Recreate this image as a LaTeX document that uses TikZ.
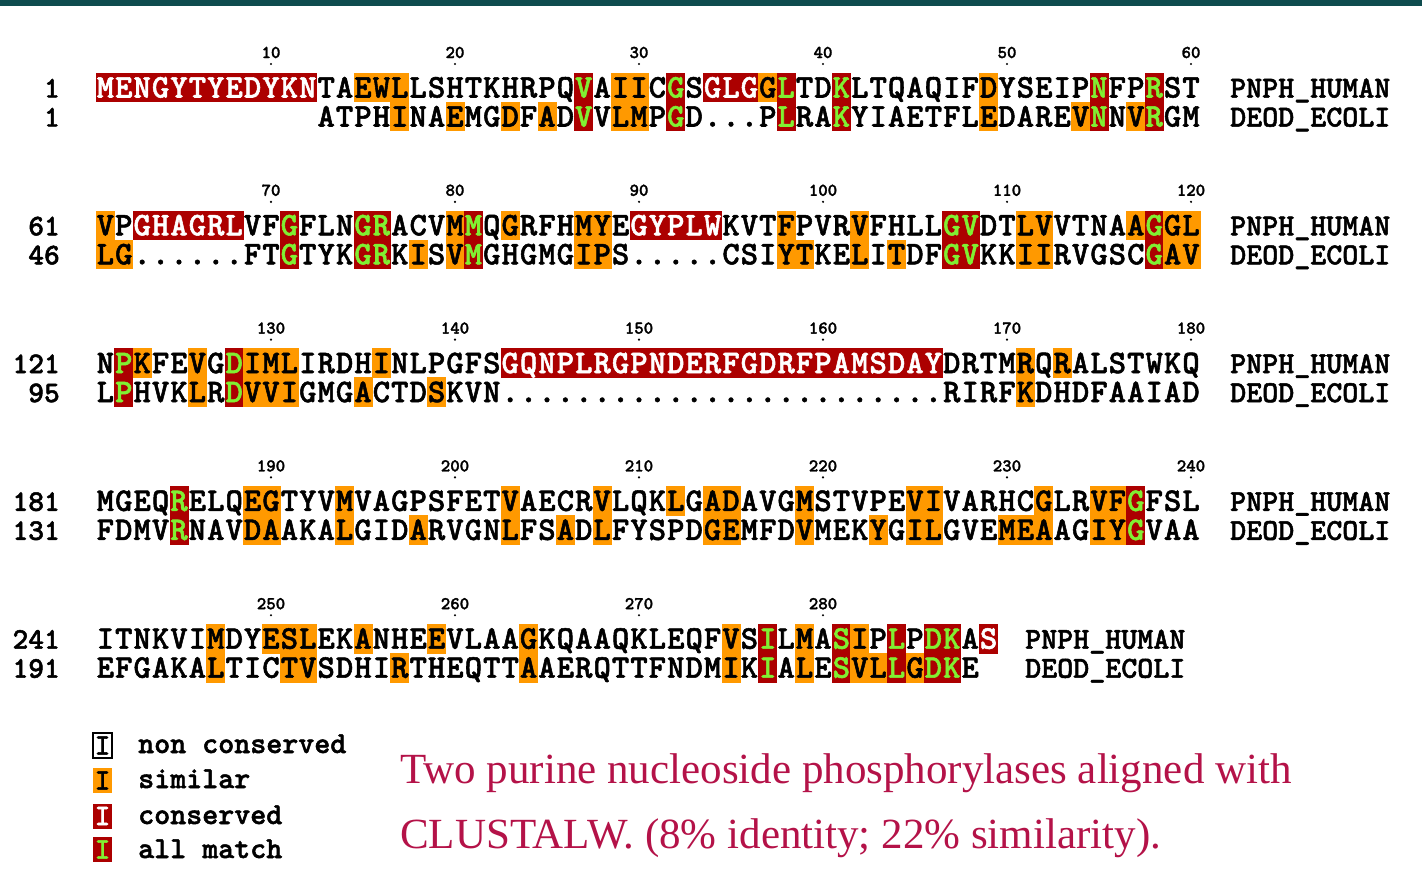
\documentclass[tikz,border=0pt]{standalone}
\usepackage{fontspec}
\usepackage{graphicx}
\setmainfont{Liberation Serif}
\newfontfamily\seqfont{lmmonolt10-bold.otf}[FakeBold=1.6]
\definecolor{ared}{RGB}{172,0,0}
\definecolor{aorange}{RGB}{255,153,0}
\definecolor{agreen}{RGB}{128,240,50}
\definecolor{capred}{RGB}{180,18,72}
\definecolor{topbar}{RGB}{14,76,78}
\tikzset{
 seqch/.style={inner sep=0pt, anchor=base, font=\seqfont\fontsize{33}{33}\selectfont},
 ticklab/.style={inner sep=0pt, anchor=base, font=\seqfont\fontsize{18}{18}\selectfont},
 rownum/.style={inner sep=0pt, anchor=base east, font=\seqfont\fontsize{30}{30}\selectfont},
 seqname/.style={inner sep=0pt, anchor=base west, font=\seqfont\fontsize{30.5}{30.5}\selectfont},
 legtext/.style={inner sep=0pt, anchor=base west, font=\seqfont\fontsize{30.5}{30.5}\selectfont},
 legbox/.style={minimum width=19pt, minimum height=25pt, inner sep=0pt, font=\seqfont\fontsize{30}{30}\selectfont},
 captext/.style={inner sep=0pt, anchor=base west, text=capred, font=\fontsize{43}{43}\selectfont},
}
\ExplSyntaxOn
\int_new:N \l__aln_k_int
\tl_new:N \l__aln_code_tl
\tl_new:N \l__aln_col_tl
\tl_new:N \l__aln_x_tl
\NewDocumentCommand \AlnBg { m m }
 {
  \int_zero:N \l__aln_k_int
  \tl_map_inline:nn {#2}
   {
    \int_incr:N \l__aln_k_int
    \tl_set:Nx \l__aln_x_tl { \fp_eval:n {96.2+(\l__aln_k_int-1)*18.4-0.3} }
    \str_case:nn {##1}
     {
      {o} { \fill[aorange] (\l__aln_x_tl, #1-14.8) rectangle ++(19, 29.6); }
      {r} { \fill[ared] (\l__aln_x_tl, #1-14.8) rectangle ++(19, 29.6); }
      {g} { \fill[ared] (\l__aln_x_tl, #1-14.8) rectangle ++(19, 29.6); }
     }
   }
 }
\NewDocumentCommand \AlnFg { m m m m }
 {
  \int_zero:N \l__aln_k_int
  \tl_map_inline:nn {#3}
   {
    \int_incr:N \l__aln_k_int
    \str_if_eq:nnF {##1} {-}
     {
      \tl_set:Nx \l__aln_code_tl { \tl_item:nn {#2} { \l__aln_k_int } }
      \tl_set:Nn \l__aln_col_tl {black}
      \str_if_eq:VnT \l__aln_code_tl {r} { \tl_set:Nn \l__aln_col_tl {white} }
      \str_if_eq:VnT \l__aln_code_tl {g} { \tl_set:Nn \l__aln_col_tl {agreen} }
      \tl_set:Nx \l__aln_x_tl { \fp_eval:n {105.4+(\l__aln_k_int-1)*18.4} }
      \node[seqch, text=\l__aln_col_tl, name=#4-\int_use:N \l__aln_k_int] at (\l__aln_x_tl, #1+10) {##1};
     }
   }
 }
\ExplSyntaxOff
\begin{document}
\begin{tikzpicture}[x=1pt,y=-1pt]
\useasboundingbox (0,0) rectangle (1422,887);
\fill[white] (0,0) rectangle (1422,887);
\fill[topbar] (0,0) rectangle (1422,6);

% backgrounds
\AlnBg{87.5}{rrrrrrrrrrrr--ooo---------g-oo-g-rrrog--g-------o-----g--g--}
\AlnBg{116.5}{----------------o--o--o-o-g-oo-g-----g--g-------o----og-og--}
\AlnBg{225.3}{o-rrrrrr--g---gg---og-o---oo-rrrrr---o---o----gg--oo----ogoo}
\AlnBg{254.3}{oo--------g---gg-o-og-----oo---------oo--o-o--gg--oo-----goo}
\AlnBg{363.1}{-go--o-gooo----o------rrrrrrrrrrrrrrrrrrrrrrrr----o-o-------}
\AlnBg{392.1}{-g---o-gooo---o---o-------------------------------o---------}
\AlnBg{500.9}{----g---oo---o--------o----o---o-oo---o-----oo-----o--oog---}
\AlnBg{529.9}{----g---oo---o---o----o--o-o-----oo---o---o-oo---ooo--oog---}
\AlnBg{638.7}{------o--ooo--o---o----o----------o-g-o-go-g-gg-r}
\AlnBg{667.7}{------o---oo----o------o----------o-g-o-googogg-}

% letters
\AlnFg{87.5}{rrrrrrrrrrrr--ooo---------g-oo-g-rrrog--g-------o-----g--g--}{MENGYTYEDYKNTAEWLLSHTKHRPQVAIICGSGLGGLTDKLTQAQIFDYSEIPNFPRST}{h1}
\AlnFg{116.5}{----------------o--o--o-o-g-oo-g-----g--g-------o----og-og--}{------------ATPHINAEMGDFADVVLMPGD...PLRAKYIAETFLEDAREVNNVRGM}{e1}
\AlnFg{225.3}{o-rrrrrr--g---gg---og-o---oo-rrrrr---o---o----gg--oo----ogoo}{VPGHAGRLVFGFLNGRACVMMQGRFHMYEGYPLWKVTFPVRVFHLLGVDTLVVTNAAGGL}{h2}
\AlnFg{254.3}{oo--------g---gg-o-og-----oo---------oo--o-o--gg--oo-----goo}{LG......FTGTYKGRKISVMGHGMGIPS.....CSIYTKELITDFGVKKIIRVGSCGAV}{e2}
\AlnFg{363.1}{-go--o-gooo----o------rrrrrrrrrrrrrrrrrrrrrrrr----o-o-------}{NPKFEVGDIMLIRDHINLPGFSGQNPLRGPNDERFGDRFPAMSDAYDRTMRQRALSTWKQ}{h3}
\AlnFg{392.1}{-g---o-gooo---o---o-------------------------------o---------}{LPHVKLRDVVIGMGACTDSKVN........................RIRFKDHDFAAIAD}{e3}
\AlnFg{500.9}{----g---oo---o--------o----o---o-oo---o-----oo-----o--oog---}{MGEQRELQEGTYVMVAGPSFETVAECRVLQKLGADAVGMSTVPEVIVARHCGLRVFGFSL}{h4}
\AlnFg{529.9}{----g---oo---o---o----o--o-o-----oo---o---o-oo---ooo--oog---}{FDMVRNAVDAAKALGIDARVGNLFSADLFYSPDGEMFDVMEKYGILGVEMEAAGIYGVAA}{e4}
\AlnFg{638.7}{------o--ooo--o---o----o----------o-g-o-go-g-gg-r}{ITNKVIMDYESLEKANHEEVLAAGKQAAQKLEQFVSILMASIPLPDKAS}{h5}
\AlnFg{667.7}{------o---oo----o------o----------o-g-o-googogg-}{EFGAKALTICTVSDHIRTHEQTTAAERQTTFNDMIKIALESVLLGDKE}{e5}

% tick labels
\foreach \n [count=\i] in {10,20,...,60}
 { \node[ticklab] (tk1-\i) at ({105.4+(10*\i-1)*18.4}, 58) {\n};
   \fill ({105.4+(10*\i-1)*18.4}, 64) circle[radius=1.2]; }
\foreach \n [count=\i] in {70,80,...,120}
 { \node[ticklab] (tk2-\i) at ({105.4+(10*\i-1)*18.4}, 195.8) {\n};
   \fill ({105.4+(10*\i-1)*18.4}, 201.8) circle[radius=1.2]; }
\foreach \n [count=\i] in {130,140,...,180}
 { \node[ticklab] (tk3-\i) at ({105.4+(10*\i-1)*18.4}, 333.6) {\n};
   \fill ({105.4+(10*\i-1)*18.4}, 339.6) circle[radius=1.2]; }
\foreach \n [count=\i] in {190,200,...,240}
 { \node[ticklab] (tk4-\i) at ({105.4+(10*\i-1)*18.4}, 471.4) {\n};
   \fill ({105.4+(10*\i-1)*18.4}, 477.4) circle[radius=1.2]; }
\foreach \n [count=\i] in {250,260,270,280}
 { \node[ticklab] (tk5-\i) at ({105.4+(10*\i-1)*18.4}, 609.2) {\n};
   \fill ({105.4+(10*\i-1)*18.4}, 615.2) circle[radius=1.2]; }

% row numbers
\node[rownum] (n1h) at (60,97.5) {1};
\node[rownum] (n1e) at (60,126.5) {1};
\node[rownum] (n2h) at (60,235.3) {61};
\node[rownum] (n2e) at (60,264.3) {46};
\node[rownum] (n3h) at (60,373.1) {121};
\node[rownum] (n3e) at (60,402.1) {95};
\node[rownum] (n4h) at (60,510.9) {181};
\node[rownum] (n4e) at (60,539.9) {131};
\node[rownum] (n5h) at (60,648.7) {241};
\node[rownum] (n5e) at (60,677.7) {191};

% names
\node[seqname] (nm1h) at (1230,97.5) {PNPH\_HUMAN};
\node[seqname] (nm1e) at (1230,126.5) {DEOD\_ECOLI};
\node[seqname] (nm2h) at (1230,235.3) {PNPH\_HUMAN};
\node[seqname] (nm2e) at (1230,264.3) {DEOD\_ECOLI};
\node[seqname] (nm3h) at (1230,373.1) {PNPH\_HUMAN};
\node[seqname] (nm3e) at (1230,402.1) {DEOD\_ECOLI};
\node[seqname] (nm4h) at (1230,510.9) {PNPH\_HUMAN};
\node[seqname] (nm4e) at (1230,539.9) {DEOD\_ECOLI};
\node[seqname] (nm5h) at (1025,648.7) {PNPH\_HUMAN};
\node[seqname] (nm5e) at (1025,677.7) {DEOD\_ECOLI};

% legend
\node[legbox, draw=black, line width=1.3pt, fill=white] (lb1) at (102.5,745.5) {I};
\node[legbox, fill=aorange] (lb2) at (102.5,780.5) {I};
\node[legbox, fill=ared, text=white] (lb3) at (102.5,816) {I};
\node[legbox, fill=ared, text=agreen] (lb4) at (102.5,849.5) {I};
\node[legtext] (lt1) at (138,753) {non conserved};
\node[legtext] (lt2) at (138,788) {similar};
\node[legtext] (lt3) at (138,824) {conserved};
\node[legtext] (lt4) at (138,858) {all match};

% caption
\node[captext] (cap1) at (400,783) {Two purine nucleoside phosphorylases aligned with};
\node[captext] (cap2) at (400,848) {CLUSTALW. (8\% identity; 22\% similarity).};
\end{tikzpicture}
\end{document}
